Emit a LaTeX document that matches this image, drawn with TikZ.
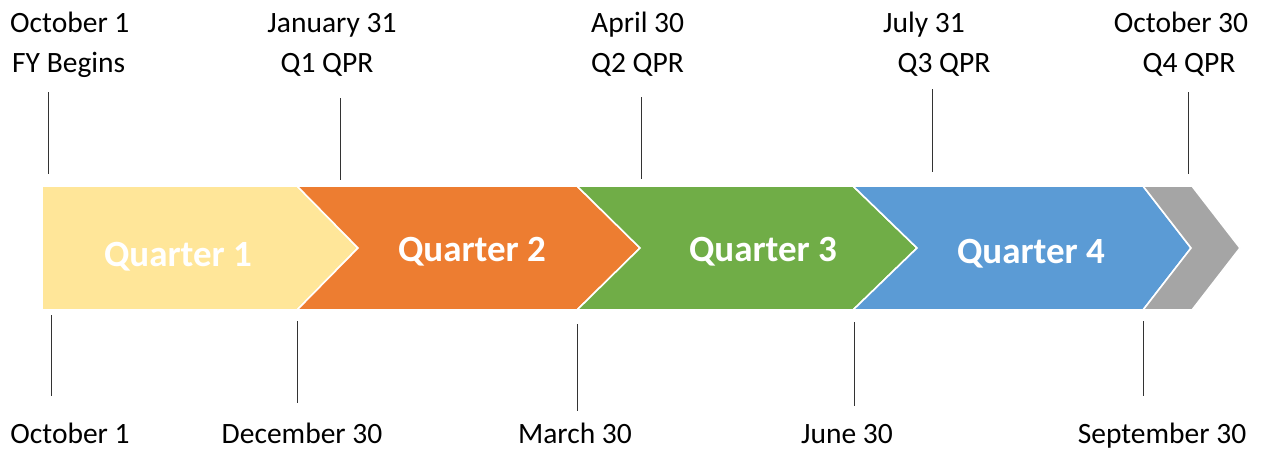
\documentclass[tikz,border=0pt]{standalone}
\usepackage{fontspec}
\setmainfont{Carlito}
\begin{document}
\begin{tikzpicture}[x=1pt,y=-1pt,
  lbl/.style={inner sep=0pt,anchor=base,font=\fontsize{29.5}{36}\selectfont,text=black},
  qlbl/.style={inner sep=0pt,anchor=base,font=\fontsize{37}{43}\selectfont\bfseries,text=white},
  tick/.style={draw=black!80,line width=0.9pt},
  band/.style={draw=white,line width=1.6pt,line join=miter}]
\useasboundingbox (0,0) rectangle (1262,448);
\definecolor{qone}{HTML}{FFE699}
\definecolor{qtwo}{HTML}{ED7D31}
\definecolor{qthree}{HTML}{70AD47}
\definecolor{qfour}{HTML}{5B9BD5}
\definecolor{qend}{HTML}{A5A5A5}

% chevron band
\path[band,fill=qone]   (42,186) -- (297,186) -- (358,248) -- (297,310) -- (42,310) -- cycle;
\path[band,fill=qtwo]   (297,186) -- (577,186) -- (640,248) -- (577,310) -- (297,310) -- (358,248) -- cycle;
\path[band,fill=qthree] (577,186) -- (853,186) -- (917,248) -- (853,310) -- (577,310) -- (640,248) -- cycle;
\path[band,fill=qfour]  (853,186) -- (1143,186) -- (1191,248) -- (1143,310) -- (853,310) -- (917,248) -- cycle;
\path[band,fill=qend]   (1143,186) -- (1192,186) -- (1240,248) -- (1192,310) -- (1143,310) -- (1191,248) -- cycle;

\node[qlbl] (q1) at (178,266) {Quarter 1};
\node[qlbl] (q2) at (472,261) {Quarter 2};
\node[qlbl] (q3) at (763,261) {Quarter 3};
\node[qlbl] (q4) at (1031,263) {Quarter 4};

% upper milestones
\node[lbl,anchor=base west] (t1a) at (10,32) {October 1};
\node[lbl,anchor=base west] (t1b) at (12,72) {FY Begins};
\node[lbl] (t2a) at (332,32) {January 31};
\node[lbl] (t2b) at (327,72) {Q1 QPR};
\node[lbl,anchor=base west] (t3a) at (591,32) {April 30};
\node[lbl,anchor=base west] (t3b) at (591,72) {Q2 QPR};
\node[lbl] (t4a) at (924,32) {July 31};
\node[lbl] (t4b) at (944,72) {Q3 QPR};
\node[lbl] (t5a) at (1181,32) {October 30};
\node[lbl] (t5b) at (1189,72) {Q4 QPR};

% lower milestones
\node[lbl] (b1) at (70,443) {October 1};
\node[lbl] (b2) at (302,443) {December 30};
\node[lbl] (b3) at (575,443) {March 30};
\node[lbl] (b4) at (847,443) {June 30};
\node[lbl] (b5) at (1162,443) {September 30};

% tick ends
\coordinate (u1a) at (48,92);   \coordinate (u1b) at (48,174);
\coordinate (u2a) at (340,98);  \coordinate (u2b) at (340,180);
\coordinate (u3a) at (641,97);  \coordinate (u3b) at (641,179);
\coordinate (u4a) at (932,89);  \coordinate (u4b) at (932,172);
\coordinate (u5a) at (1188,92); \coordinate (u5b) at (1188,174);
\coordinate (l1a) at (51,315);  \coordinate (l1b) at (51,396);
\coordinate (l2a) at (297,321); \coordinate (l2b) at (297,403);
\coordinate (l3a) at (577,324); \coordinate (l3b) at (577,411);
\coordinate (l4a) at (854,322); \coordinate (l4b) at (854,406);
\coordinate (l5a) at (1143,321);\coordinate (l5b) at (1143,396);

\foreach \i in {1,...,5}{
  \draw[tick] (u\i a) -- (u\i b);
  \draw[tick] (l\i a) -- (l\i b);
}
\end{tikzpicture}
\end{document}
